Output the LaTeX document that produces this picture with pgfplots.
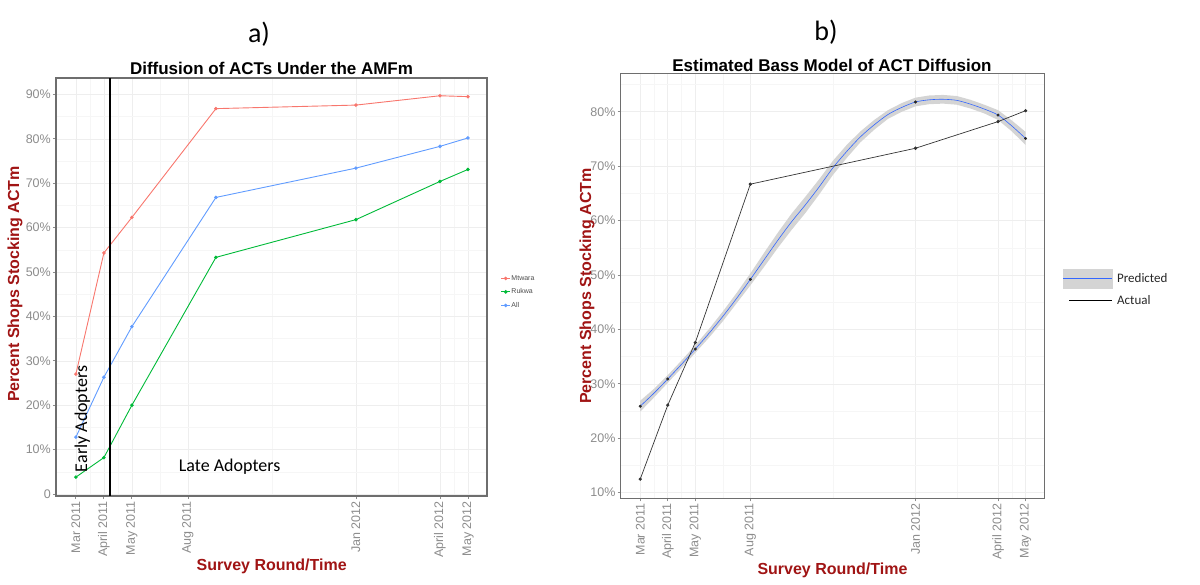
\documentclass[border=0pt]{standalone}
\usepackage{pgfplots}
\pgfplotsset{compat=1.18}
\usepackage{fontspec}
\setmainfont{Liberation Sans}
\newfontfamily\calibri{Carlito}
\definecolor{mred}{HTML}{F8766D}
\definecolor{mgreen}{HTML}{00BA38}
\definecolor{mblue}{HTML}{619CFF}
\definecolor{predblue}{HTML}{3366FF}
\definecolor{titlered}{RGB}{160,20,20}
\definecolor{tickgray}{RGB}{140,140,140}
\definecolor{framegray}{RGB}{110,110,110}
\definecolor{bandgray}{RGB}{212,212,212}
\pgfplotsset{
  ggstyle/.style={
    scale only axis,
    axis line style={framegray, line width=1.2pt},
    tick align=outside,
    major tick length=3pt,
    minor tick length=0pt,
    tick style={tickgray, line width=0.8pt},
    xtick pos=bottom, ytick pos=left,
    grid=both,
    major grid style={gray!13, line width=0.6pt},
    minor grid style={gray!7, line width=0.4pt},
    /pgf/number format/assume math mode=true,
    ticklabel style={font=\fontsize{12.5}{14}\selectfont, text=tickgray},
    xticklabel style={rotate=90, anchor=east, inner sep=2pt},
    yticklabel style={inner sep=2pt},
    xtick={0,1,2,4,10,13,14},
    xticklabels={Mar 2011, April 2011, May 2011, Aug 2011, Jan 2012, April 2012, May 2012},
    minor xtick={0.5,1.5,3,7,11.5,13.5},
    xmin=-0.71, xmax=14.68,
    clip=false,
  }
}
\begin{document}
\begin{tikzpicture}
\path[use as bounding box] (0pt,0pt) rectangle (1200pt,584pt);
% ---------------- Left chart ----------------
\begin{axis}[ggstyle,
  at={(56pt,88pt)}, anchor=south west,
  width=431pt, height=418pt,
  ymin=-0.45, ymax=93.7,
  ytick={0,10,20,30,40,50,60,70,80,90},
  yticklabels={0,10\%,20\%,30\%,40\%,50\%,60\%,70\%,80\%,90\%},
  minor ytick={5,15,25,35,45,55,65,75,85},
  legend style={at={(1.025,0.488)}, anchor=west, draw=none, fill=none,
    font=\fontsize{7}{8}\selectfont, text=black!70, row sep=5pt,
    nodes={inner sep=1pt}},
  legend cell align=left,
  legend image code/.code={\draw[mark repeat=2,mark phase=2] plot coordinates {(0pt,0pt) (4.3pt,0pt) (8.6pt,0pt)};},
]
\addplot[mred, line width=0.9pt, mark=*, mark size=1.3pt] coordinates {(0,27.0)(1,54.3)(2,62.3)(5,86.8)(10,87.6)(13,89.7)(14,89.5)};
\addlegendentry{Mtwara}
\addplot[mgreen, line width=0.9pt, mark=*, mark size=1.3pt] coordinates {(0,3.8)(1,8.2)(2,20.0)(5,53.3)(10,61.8)(13,70.4)(14,73.1)};
\addlegendentry{Rukwa}
\addplot[mblue, line width=0.9pt, mark=*, mark size=1.3pt] coordinates {(0,12.8)(1,26.3)(2,37.7)(5,66.8)(10,73.4)(13,78.3)(14,80.2)};
\addlegendentry{All}
\addplot[black, line width=2.2pt, forget plot] coordinates {(1.21,-0.45)(1.21,93.7)};
\node[rotate=90, font=\calibri\fontsize{18}{20}\selectfont] at (axis cs:0.23,16.9) {Early Adopters};
\node[font=\calibri\fontsize{18}{20}\selectfont] at (axis cs:5.49,6.1) {Late Adopters};
\end{axis}
% ---------------- Right chart ----------------
\begin{axis}[ggstyle,
  at={(620.7pt,85.7pt)}, anchor=south west,
  width=423.6pt, height=424.6pt,
  ymin=8.97, ymax=87.0,
  ytick={10,20,30,40,50,60,70,80},
  yticklabels={10\%,20\%,30\%,40\%,50\%,60\%,70\%,80\%},
  minor ytick={15,25,35,45,55,65,75,85},
  legend style={at={(1.037,0.495)}, anchor=west, draw=none, fill=none,
    font=\calibri\fontsize{13}{15}\selectfont, text=black!85, row sep=6pt,
    nodes={inner sep=1.5pt},
    /tikz/every odd column/.append style={column sep=3pt}},
  legend cell align=left,
]
\addplot[fill=bandgray, draw=none, forget plot] coordinates {
(0,26.9)(0.5,29.1)(1,31.6)(1.5,34.3)(2,37.1)(2.5,40.1)(3,43.3)(3.5,46.7)(4,50.3)(4.5,54.1)(5,57.8)(5.5,61.3)(6,64.4)(6.5,67.6)(7,71.0)(7.5,73.9)(8,76.4)(8.5,78.5)(9,80.3)(9.5,81.6)(10,82.6)(10.5,83.0)(11,83.1)(11.5,82.9)(12,82.2)(12.5,81.3)(13,80.3)(13.5,78.4)(14,76.3)
(14,73.9)(13.5,76.4)(13,78.5)(12.5,79.7)(12,80.6)(11.5,81.3)(11,81.5)(10.5,81.4)(10,81.0)(9.5,80.0)(9,78.7)(8.5,76.7)(8,74.4)(7.5,71.5)(7,68.4)(6.5,64.8)(6,61.4)(5.5,58.3)(5,55.0)(4.5,51.5)(4,48.1)(3.5,44.8)(3,41.5)(2.5,38.5)(2,35.7)(1.5,32.9)(1,30.2)(0.5,27.5)(0,24.9)
} -- cycle;
\addplot[predblue, line width=0.6pt, smooth,
  legend image code/.code={\fill[bandgray] (0pt,-9.5pt) rectangle (48.6pt,9.5pt); \draw[predblue, line width=0.6pt] (0pt,0pt) -- (48.6pt,0pt);}]
 coordinates {(0,25.9)(0.5,28.3)(1,30.9)(1.5,33.6)(2,36.4)(2.5,39.3)(3,42.4)(3.5,45.7)(4,49.2)(4.5,52.8)(5,56.4)(5.5,59.8)(6,62.9)(6.5,66.2)(7,69.7)(7.5,72.7)(8,75.4)(8.5,77.6)(9,79.5)(9.5,80.8)(10,81.8)(10.5,82.2)(11,82.3)(11.5,82.1)(12,81.4)(12.5,80.5)(13,79.4)(13.5,77.4)(14,75.1)};
\addlegendentry{Predicted}
\addplot[only marks, mark=*, mark size=1.3pt, black!85, forget plot] coordinates {(0,25.9)(1,30.9)(2,36.4)(4,49.2)(10,81.8)(13,79.4)(14,75.1)};
\addplot[black!80, line width=0.7pt, mark=*, mark size=1.3pt,
  legend image code/.code={\draw[black, line width=1.1pt] (6pt,0pt) -- (48.6pt,0pt);}]
 coordinates {(0,12.5)(1,26.1)(2,37.6)(4,66.7)(10,73.3)(13,78.2)(14,80.2)};
\addlegendentry{Actual}
\end{axis}
% ---------------- Titles and labels ----------------
\node[font=\calibri\fontsize{28}{30}\selectfont] at (259pt,550pt) {a)};
\node[font=\calibri\fontsize{28}{30}\selectfont] at (826pt,552pt) {b)};
\node[font=\bfseries\fontsize{17}{20}\selectfont] at (271.5pt,516pt) {Diffusion of ACTs Under the AMFm};
\node[font=\bfseries\fontsize{17}{20}\selectfont] at (832pt,519pt) {Estimated Bass Model of ACT Diffusion};
\node[rotate=90, font=\bfseries\fontsize{16}{19}\selectfont, text=titlered] at (15pt,300pt) {Percent Shops Stocking ACTm};
\node[rotate=90, font=\bfseries\fontsize{16}{19}\selectfont, text=titlered] at (587pt,298pt) {Percent Shops Stocking ACTm};
\node[font=\bfseries\fontsize{16}{19}\selectfont, text=titlered] at (271.7pt,17.3pt) {Survey Round/Time};
\node[font=\bfseries\fontsize{16}{19}\selectfont, text=titlered] at (832.5pt,14pt) {Survey Round/Time};
\end{tikzpicture}
\end{document}
